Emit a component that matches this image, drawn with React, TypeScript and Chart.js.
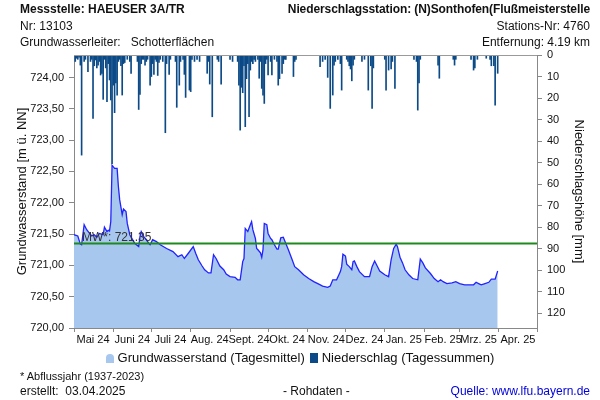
import React, { useEffect, useRef } from "react";
import { Chart, registerables } from "chart.js";

Chart.register(...registerables);

// ---- Data ----
const monthLabels = ["Mai 24", "Juni 24", "Juli 24", "Aug. 24", "Sept. 24", "Okt. 24", "Nov. 24", "Dez. 24", "Jan. 25", "Feb. 25", "Mrz. 25", "Apr. 25"];
// day offsets of month boundaries from 1 May 2024
const monthStartDays = [0, 31, 61, 92, 123, 153, 184, 214, 245, 276, 304, 335, 365];

const gwDays = [0, 3, 5, 6, 8, 10, 12, 14, 16, 18, 20, 23, 24, 26, 27, 28, 29, 30, 32, 34, 35, 36, 38, 39, 41, 42, 44, 45, 48, 51, 52, 53, 55, 57, 59, 60, 62, 65, 68, 73, 78, 82, 85, 87, 90, 94, 96, 98, 101, 103, 106, 108, 110, 112, 115, 118, 120, 123, 127, 129, 131, 133, 134, 135, 137, 139, 140, 141, 143, 144, 145, 147, 148, 149, 150, 152, 153, 155, 156, 158, 160, 161, 163, 165, 167, 169, 172, 174, 177, 181, 185, 189, 193, 196, 200, 202, 204, 207, 210, 211, 212, 214, 215, 217, 219, 220, 221, 223, 225, 229, 233, 235, 237, 239, 241, 245, 248, 250, 252, 254, 255, 257, 259, 261, 264, 267, 271, 273, 275, 277, 281, 284, 287, 289, 291, 294, 298, 301, 304, 308, 312, 315, 317, 319, 321, 324, 327, 329, 332, 334];
const gwLevels = [721.49, 721.47, 721.34, 721.33, 721.65, 721.57, 721.52, 721.47, 721.49, 721.45, 721.51, 721.49, 721.61, 721.54, 721.56, 721.55, 721.70, 722.60, 722.55, 722.55, 722.26, 722.05, 721.81, 721.90, 721.86, 721.67, 721.49, 721.45, 721.35, 721.30, 721.46, 721.54, 721.46, 721.41, 721.35, 721.33, 721.41, 721.38, 721.33, 721.27, 721.22, 721.14, 721.17, 721.11, 721.19, 721.30, 721.19, 721.09, 720.99, 720.93, 720.88, 720.88, 721.17, 721.11, 720.99, 720.93, 720.86, 720.82, 720.81, 720.77, 720.77, 721.06, 721.11, 721.59, 721.54, 721.65, 721.70, 721.57, 721.43, 721.27, 721.25, 721.20, 721.13, 721.25, 721.67, 721.65, 721.51, 721.43, 721.41, 721.33, 721.26, 721.26, 721.44, 721.45, 721.35, 721.25, 721.09, 720.98, 720.93, 720.85, 720.79, 720.74, 720.70, 720.67, 720.65, 720.67, 720.77, 720.77, 720.90, 720.98, 721.18, 721.15, 721.02, 720.98, 720.93, 721.06, 721.07, 720.98, 720.90, 720.82, 720.82, 720.98, 721.07, 720.99, 720.91, 720.85, 720.82, 721.09, 721.27, 721.34, 721.30, 721.13, 721.04, 720.93, 720.85, 720.79, 720.77, 721.10, 721.04, 720.96, 720.87, 720.79, 720.74, 720.77, 720.74, 720.71, 720.72, 720.74, 720.71, 720.69, 720.69, 720.69, 720.73, 720.71, 720.69, 720.71, 720.73, 720.78, 720.78, 720.91];

const precipDays = [1, 2, 3, 4, 5, 6, 8, 9, 11, 13, 14, 15, 16, 17, 18, 19, 20, 21, 22, 23, 24, 25, 26, 27, 28, 29, 30, 31, 32, 33, 34, 35, 36, 37, 38, 39, 40, 42, 44, 45, 50, 51, 52, 53, 54, 55, 56, 57, 58, 60, 61, 62, 63, 64, 65, 66, 67, 68, 70, 72, 73, 75, 76, 80, 81, 83, 84, 86, 87, 88, 91, 92, 93, 95, 97, 99, 105, 106, 107, 109, 113, 114, 116, 123, 125, 129, 130, 131, 132, 133, 134, 135, 136, 137, 138, 139, 140, 141, 142, 143, 145, 146, 147, 148, 149, 150, 151, 152, 153, 155, 156, 158, 160, 161, 162, 164, 165, 166, 167, 173, 174, 175, 194, 196, 198, 200, 202, 204, 205, 206, 208, 210, 211, 215, 216, 217, 218, 219, 220, 221, 227, 229, 232, 234, 235, 236, 245, 246, 248, 250, 251, 253, 268, 270, 271, 272, 273, 287, 288, 299, 300, 301, 313, 315, 316, 318, 325, 328, 329, 331, 332, 334];
const precipValues = [3, 1.5, 2, 1, 4.7, 46.5, 3, 2, 7.8, 3, 2, 29.5, 5, 2.3, 6, 4.7, 3, 9.3, 8.5, 20.6, 2, 6, 21.7, 4, 11.6, 20.9, 50.5, 14, 26.8, 13, 18.6, 3, 2, 5, 18.6, 4, 3.5, 2, 3, 8.5, 3, 25.3, 18.3, 4, 2, 2, 4.7, 3, 2, 14, 10, 4, 9, 2, 3, 9.5, 3.5, 2, 3, 36.1, 4, 9, 2, 3, 24.3, 14, 3, 2, 9, 19.7, 16.3, 17, 2, 3, 2, 3, 8.5, 3, 13.5, 28.7, 2, 3, 13.5, 2, 3, 3, 14, 34.9, 15, 17.5, 5, 33.3, 11, 4, 28.7, 7, 3, 4, 2, 3, 2, 10.8, 3, 15.5, 18.6, 22.5, 4, 2, 9.3, 3, 9.3, 2, 3, 14, 11, 8.5, 4, 2, 2, 10, 3, 2, 5.4, 3, 2, 10.4, 24.8, 18.6, 4.7, 3, 2, 4, 16.3, 2, 3, 5, 6.5, 12, 4.7, 2, 3, 2, 16.3, 5, 24.8, 6, 2, 16.3, 7, 6.5, 3, 15.5, 2, 3, 25.6, 13, 2, 4.7, 10.8, 2, 4.7, 2, 2, 7, 6, 2, 1.5, 2, 5, 5, 23.3, 8.5];

const meanLevel = 721.35;
const meanLabel = "MW*: 721.35";

const FONT = "'Liberation Sans', Arial, Helvetica, sans-serif";

export default function App() {
  const canvasRef = useRef<HTMLCanvasElement | null>(null);

  useEffect(() => {
    const canvas = canvasRef.current;
    if (!canvas) return;

    const framePlugin = {
      id: "frameAndMean",
      afterDatasetsDraw(chart: any) {
        const { ctx, chartArea } = chart;
        const yS = chart.scales.y;
        ctx.save();
        ctx.strokeStyle = "#9a9a9a";
        ctx.lineWidth = 1;
        ctx.beginPath();
        ctx.moveTo(chartArea.left, chartArea.top + 0.5);
        ctx.lineTo(chartArea.right, chartArea.top + 0.5);
        ctx.stroke();
        const yPx = yS.getPixelForValue(meanLevel);
        ctx.fillStyle = "#333";
        ctx.font = `12px ${FONT}`;
        ctx.textBaseline = "bottom";
        ctx.textAlign = "left";
        ctx.fillText(meanLabel, chartArea.left + 8, yPx);
        ctx.restore();
      },
    };

    const chart = new Chart(canvas, {
      type: "bar",
      data: {
        datasets: [
          {
            type: "bar",
            label: "Niederschlag (Tagessummen)",
            data: precipDays.map((d, i) => ({ x: d, y: precipValues[i] })),
            yAxisID: "y2",
            xAxisID: "x",
            backgroundColor: "#0b4a86",
            barThickness: 1,
            order: 1,
          } as any,
          {
            type: "line",
            label: "MW",
            data: [
              { x: 0, y: meanLevel },
              { x: 365, y: meanLevel },
            ],
            yAxisID: "y",
            xAxisID: "x",
            borderColor: "#1e8a1e",
            borderWidth: 2,
            pointRadius: 0,
            fill: false,
            order: 2,
          } as any,
          {
            type: "line",
            label: "Grundwasserstand (Tagesmittel)",
            data: gwDays.map((d, i) => ({ x: d, y: gwLevels[i] })),
            yAxisID: "y",
            xAxisID: "x",
            borderColor: "#2222ff",
            borderWidth: 1.3,
            backgroundColor: "#a7c7ee",
            fill: "start",
            pointRadius: 0,
            tension: 0,
            order: 3,
          } as any,
        ],
      },
      options: {
        responsive: false,
        devicePixelRatio: 1,
        animation: false,
        layout: { padding: { top: 55, bottom: 52, left: 0, right: 0 } },
        plugins: {
          legend: { display: false },
          tooltip: { enabled: false },
        },
        scales: {
          x: {
            type: "linear",
            min: 0,
            max: 365,
            offset: false,
            grid: { display: true, drawOnChartArea: false, offset: false, tickLength: 4, color: "#888" },
            border: { color: "#888" },
            afterBuildTicks: (scale: any) => {
              scale.ticks = monthStartDays.map((v) => ({ value: v }));
            },
            afterFit: (scale: any) => {
              scale.height = 20;
            },
            ticks: {
              autoSkip: false,
              maxRotation: 0,
              minRotation: 0,
              padding: 1,
              labelOffset: 19,
              color: "#111",
              font: { family: FONT, size: 11 },
              callback: (_v: any, i: number) => monthLabels[i] ?? "",
            },
          },
          y: {
            type: "linear",
            position: "left",
            min: 720,
            max: 724.36,
            grid: { display: true, drawOnChartArea: false, tickLength: 5, color: "#888" },
            border: { color: "#888" },
            afterFit: (scale: any) => {
              scale.width = 74;
            },
            ticks: {
              stepSize: 0.5,
              includeBounds: false,
              padding: 5,
              color: "#111",
              font: { family: FONT, size: 11 },
              callback: (v: any) => Number(v).toFixed(2).replace(".", ","),
            },
            title: {
              display: true,
              text: "Grundwasserstand [m ü. NN]",
              color: "#111",
              font: { family: FONT, size: 13 },
              padding: { top: 15, bottom: 0 },
            },
          },
          y2: {
            type: "linear",
            position: "right",
            reverse: true,
            min: 0,
            max: 126.8,
            grid: { display: true, drawOnChartArea: false, tickLength: 5, color: "#888" },
            border: { color: "#888" },
            afterFit: (scale: any) => {
              scale.width = 63;
            },
            ticks: {
              stepSize: 10,
              includeBounds: false,
              padding: 5,
              color: "#111",
              font: { family: FONT, size: 11 },
            },
            title: {
              display: true,
              text: "Niederschlagshöhe [mm]",
              color: "#111",
              font: { family: FONT, size: 13 },
              padding: { top: 14, bottom: 0 },
            },
          },
        },
      } as any,
      plugins: [framePlugin],
    });

    return () => chart.destroy();
  }, []);

  const abs = (s: React.CSSProperties): React.CSSProperties => ({ position: "absolute", whiteSpace: "pre", lineHeight: "14px", ...s });

  return (
    <div style={{ position: "fixed", left: 0, top: 0, width: 600, height: 400, background: "#fff", fontFamily: FONT, color: "#111", fontSize: 12 }}>
      <canvas ref={canvasRef} width={600} height={400} style={{ position: "absolute", left: 0, top: 0, width: 600, height: 400 }} />
      <div style={abs({ left: 20, top: 2, fontWeight: "bold" })}>Messstelle: HAEUSER 3A/TR</div>
      <div style={abs({ right: 10, top: 2, fontWeight: "bold", letterSpacing: "-0.1px" })}>Niederschlagsstation: (N)Sonthofen(Flußmeisterstelle</div>
      <div style={abs({ left: 20, top: 19 })}>Nr: 13103</div>
      <div style={abs({ right: 10, top: 19 })}>Stations-Nr: 4760</div>
      <div style={abs({ left: 20, top: 35 })}>{"Grundwasserleiter:   Schotterflächen"}</div>
      <div style={abs({ right: 10, top: 35 })}>Entfernung: 4.19 km</div>

      <div style={abs({ left: 0, width: 600, top: 350, fontSize: 13, lineHeight: "16px", textAlign: "center" })}>
        <span style={{ display: "inline-block", width: 8, height: 9, background: "#a7c7ee", borderRadius: "4px 4px 0 0", marginRight: 4, verticalAlign: "-1px" }} />
        Grundwasserstand (Tagesmittel)
        <span style={{ display: "inline-block", width: 8, height: 10, background: "#0b4a86", marginLeft: 5, marginRight: 4, verticalAlign: "-1px" }} />
        Niederschlag (Tagessummen)
      </div>

      <div style={abs({ left: 20, top: 369, fontSize: 11 })}>* Abflussjahr (1937-2023)</div>
      <div style={abs({ left: 20, top: 384 })}>{"erstellt:  03.04.2025"}</div>
      <div style={abs({ left: 283, top: 384 })}>- Rohdaten -</div>
      <div style={abs({ right: 10, top: 384, color: "#0000dd" })}>Quelle: www.lfu.bayern.de</div>
    </div>
  );
}
